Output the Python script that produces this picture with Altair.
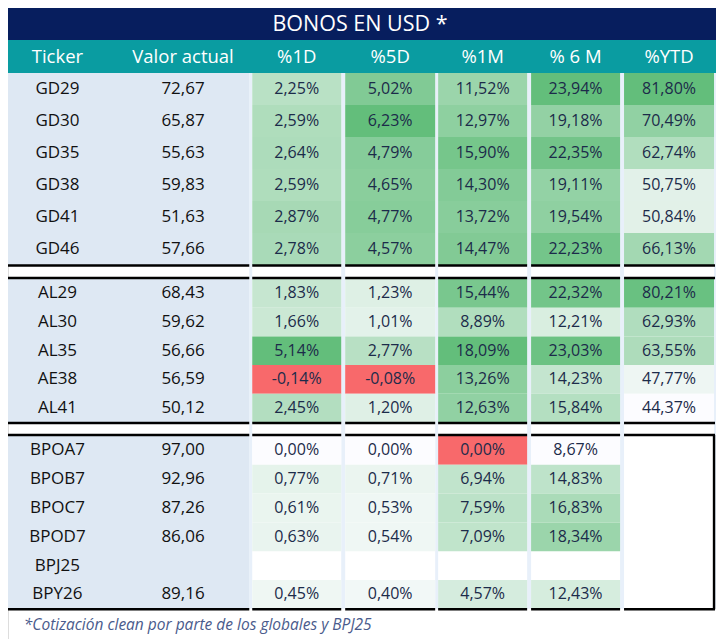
import altair as alt
import pandas as pd

# ---------------- data ----------------
title = "BONOS EN USD *"
headers = ["Ticker", "Valor actual", "%1D", "%5D", "%1M", "% 6 M", "%YTD"]
footnote = "*Cotización clean por parte de los globales y BPJ25"

g_tickers = ["GD29", "GD30", "GD35", "GD38", "GD41", "GD46"]
g_valor = [72.67, 65.87, 55.63, 59.83, 51.63, 57.66]
g_1d = [2.25, 2.59, 2.64, 2.59, 2.87, 2.78]
g_5d = [5.02, 6.23, 4.79, 4.65, 4.77, 4.57]
g_1m = [11.52, 12.97, 15.90, 14.30, 13.72, 14.47]
g_6m = [23.94, 19.18, 22.35, 19.11, 19.54, 22.23]
g_ytd = [81.80, 70.49, 62.74, 50.75, 50.84, 66.13]

a_tickers = ["AL29", "AL30", "AL35", "AE38", "AL41"]
a_valor = [68.43, 59.62, 56.66, 56.59, 50.12]
a_1d = [1.83, 1.66, 5.14, -0.14, 2.45]
a_5d = [1.23, 1.01, 2.77, -0.08, 1.20]
a_1m = [15.44, 8.89, 18.09, 13.26, 12.63]
a_6m = [22.32, 12.21, 23.03, 14.23, 15.84]
a_ytd = [80.21, 62.93, 63.55, 47.77, 44.37]

b_tickers = ["BPOA7", "BPOB7", "BPOC7", "BPOD7", "BPJ25", "BPY26"]
b_valor = [97.00, 92.96, 87.26, 86.06, None, 89.16]
b_1d = [0.00, 0.77, 0.61, 0.63, None, 0.45]
b_5d = [0.00, 0.71, 0.53, 0.54, None, 0.40]
b_1m = [0.00, 6.94, 7.59, 7.09, None, 4.57]
b_6m = [8.67, 14.83, 16.83, 18.34, None, 12.43]
b_ytd = [None, None, None, None, None, None]

sections = [
    (g_tickers, g_valor, [g_1d, g_5d, g_1m, g_6m, g_ytd]),
    (a_tickers, a_valor, [a_1d, a_5d, a_1m, a_6m, a_ytd]),
    (b_tickers, b_valor, [b_1d, b_5d, b_1m, b_6m, b_ytd]),
]

# ---------------- layout (reference pixel frame) ----------------
LEFT, RIGHT, TOP, BOTTOM = 8, 724, 8, 639
TITLE_Y2, HEAD_Y2 = 40, 73
SEC_TOP = [73, 279, 436]
ROW_H = [32, 28.7, 28.8]
LEFT_BLOCK = (LEFT, 252)
TICK_X, VAL_X = 58, 185
COL_L = [255, 349, 443, 537, 631]
COL_R = [345, 440, 533, 627, 722]
TABLE_BOTTOM = SEC_TOP[2] + ROW_H[2] * len(b_tickers)

NAVY, TEAL, LBLUE, GAP = "#071e5e", "#0a9ca1", "#dee8f3", "#e8f0fa"
FONT = "Open Sans"


def fmt_num(v):
    return f"{v:.2f}".replace(".", ",")


# color score per column: Excel-like 3 colour scale (red / white / green)
scores = {}
for j in range(5):
    vals = [v for _, _, ser in sections for v in ser[j] if v is not None]
    if not vals:
        continue
    vmin, vmax = min(vals), max(vals)
    mid = max(vmin, 0)
    for s, (_, _, ser) in enumerate(sections):
        for i, v in enumerate(ser[j]):
            if v is None:
                continue
            if v == vmin and vmin <= 0:
                t = -1.0
            elif v < mid:
                t = -(mid - v) / (mid - vmin)
            else:
                t = (v - mid) / (vmax - mid) if vmax > mid else 0.0
            scores[(s, i, j)] = t

panels, cells, texts_dark, texts_pct, lines, vlines = [], [], [], [], [], []
panels.append(dict(x=LEFT, x2=RIGHT, y=TOP, y2=TITLE_Y2, fill=NAVY))
panels.append(dict(x=LEFT, x2=RIGHT, y=TITLE_Y2, y2=HEAD_Y2, fill=TEAL))
panels.append(dict(x=LEFT_BLOCK[1], x2=RIGHT, y=HEAD_Y2, y2=TABLE_BOTTOM, fill=GAP))
for j in range(5):
    panels.append(dict(x=COL_L[j], x2=COL_R[j], y=HEAD_Y2, y2=TABLE_BOTTOM, fill="#ffffff"))

for s, (tick, val, ser) in enumerate(sections):
    top, h = SEC_TOP[s], ROW_H[s]
    bottom = top + h * len(tick)
    panels.append(dict(x=LEFT_BLOCK[0], x2=LEFT_BLOCK[1], y=top, y2=bottom, fill=LBLUE))
    for i, t in enumerate(tick):
        y1 = top + i * h
        yc = y1 + h / 2
        texts_dark.append(dict(x=TICK_X, y=yc, label=t))
        if val[i] is not None:
            texts_dark.append(dict(x=VAL_X, y=yc, label=fmt_num(val[i])))
        for j in range(5):
            v = ser[j][i]
            if v is None:
                continue
            cells.append(dict(x=COL_L[j], x2=COL_R[j], y=y1, y2=y1 + h, t=scores[(s, i, j)]))
            texts_pct.append(dict(x=(COL_L[j] + COL_R[j]) / 2, y=yc, label=fmt_num(v) + "%"))
    # borders
    ys = [bottom + 0.5]
    if s > 0:
        ys.append(top - 1)
    for yy in ys:
        lines.append(dict(x=LEFT_BLOCK[0], x2=LEFT_BLOCK[1], y=yy))
        for j in range(5):
            lines.append(dict(x=COL_L[j], x2=(COL_R[j] if j < 4 else RIGHT - 1), y=yy))
vlines.append(dict(x=COL_R[4], y=SEC_TOP[2] - 1, y2=TABLE_BOTTOM + 0.5))

head_rows = [dict(x=TICK_X, y=57, label=headers[0]), dict(x=VAL_X, y=57, label=headers[1])]
for j in range(5):
    head_rows.append(dict(x=(COL_L[j] + COL_R[j]) / 2, y=57, label=headers[j + 2]))

XS = alt.Scale(domain=[LEFT, RIGHT], nice=False, zero=False)
YS = alt.Scale(domain=[TOP, BOTTOM], nice=False, zero=False, reverse=True)


def X(f="x"):
    return alt.X(f"{f}:Q", scale=XS, axis=None)


def Y(f="y"):
    return alt.Y(f"{f}:Q", scale=YS, axis=None)


bg = alt.Chart(pd.DataFrame(panels)).mark_rect().encode(
    x=X(), x2="x2:Q", y=Y(), y2="y2:Q", color=alt.Color("fill:N", scale=None)
)

heat = alt.Chart(pd.DataFrame(cells)).mark_rect().encode(
    x=X(), x2="x2:Q", y=Y(), y2="y2:Q",
    color=alt.Color("t:Q", legend=None,
                    scale=alt.Scale(domain=[-1, 0, 1],
                                    range=["#F8696B", "#FCFCFF", "#63BE7B"],
                                    interpolate="rgb")),
)

hrules = alt.Chart(pd.DataFrame(lines)).mark_rule(color="black", strokeWidth=2.6).encode(
    x=X(), x2="x2:Q", y=Y()
)
vrules = alt.Chart(pd.DataFrame(vlines)).mark_rule(color="black", strokeWidth=2.4).encode(
    x=X(), y=Y(), y2="y2:Q"
)

title_t = alt.Chart(pd.DataFrame([dict(x=364, y=25, label=title)])).mark_text(
    font=FONT, fontSize=21.5, color="white", align="center", baseline="middle"
).encode(x=X(), y=Y(), text="label:N")

head_t = alt.Chart(pd.DataFrame(head_rows)).mark_text(
    font=FONT, fontSize=18.5, color="white", align="center", baseline="middle"
).encode(x=X(), y=Y(), text="label:N")

dark_t = alt.Chart(pd.DataFrame(texts_dark)).mark_text(
    font=FONT, fontSize=17, color="#111111", align="center", baseline="middle"
).encode(x=X(), y=Y(), text="label:N")

pct_t = alt.Chart(pd.DataFrame(texts_pct)).mark_text(
    font=FONT, fontSize=16, color="#1c2b4a", align="center", baseline="middle"
).encode(x=X(), y=Y(), text="label:N")

foot_t = alt.Chart(pd.DataFrame([dict(x=24, y=625, label=footnote)])).mark_text(
    font=FONT, fontSize=15.5, fontStyle="italic", color="#4a5b8c", align="left", baseline="middle"
).encode(x=X(), y=Y(), text="label:N")

chart = alt.layer(bg, heat, hrules, vrules, title_t, head_t, dark_t, pct_t, foot_t).properties(
    width=708, height=BOTTOM - TOP,
    autosize=alt.AutoSizeParams(type="none"), padding=0,
).configure_view(stroke=None).configure(background="white")

chart.save("out.html", embed_options={"renderer": "svg", "actions": False})
